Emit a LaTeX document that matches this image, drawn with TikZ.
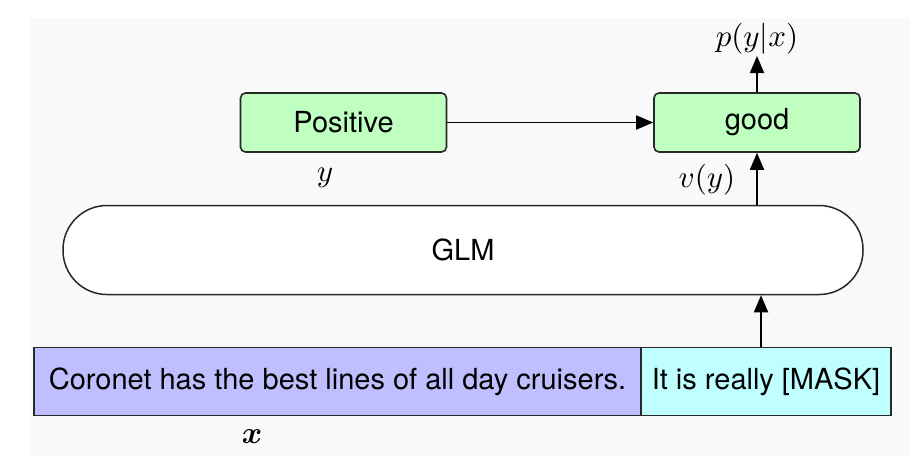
\documentclass[tikz,border=0pt]{standalone}
\usepackage{fontspec}
\usepackage{amsmath,bm}
\setsansfont{TeX Gyre Heros}
\usetikzlibrary{arrows.meta}
\definecolor{boxgreen}{RGB}{191,255,191}
\definecolor{boxpurple}{RGB}{191,191,255}
\definecolor{boxcyan}{RGB}{191,255,255}
\definecolor{bggray}{RGB}{249,249,249}
\definecolor{edgegray}{RGB}{40,40,40}
\tikzset{
  lbl/.style={font=\sffamily\fontsize{29}{34}\selectfont, text=black},
  mathlbl/.style={font=\fontsize{10}{12}\selectfont, inner sep=0pt, scale=3.1},
  greenbox/.style={lbl, draw=edgegray, line width=1.6pt, fill=boxgreen, rounded corners=5pt, minimum width=206pt, minimum height=59pt, inner sep=0pt},
  textbox/.style={lbl, draw=edgegray, line width=1.6pt, minimum height=68pt, inner sep=0pt},
  glmbox/.style={lbl, draw=edgegray, line width=1.5pt, fill=white, rounded corners=44pt, minimum width=800pt, minimum height=89pt, inner sep=0pt},
  arr/.style={line width=1.8pt, -{Triangle[length=17pt,width=14pt]}}
}
\begin{document}
\begin{tikzpicture}[x=1pt,y=-1pt]
\useasboundingbox (0,0) rectangle (916,466);
\fill[bggray] (30,18) rectangle (910,456);
\node[greenbox] (pos) at (343.5,122.5) {Positive};
\node[greenbox] (good) at (757,122.5) {good};
\node[glmbox] (glm) at (463,250) {GLM};
\node[textbox, fill=boxpurple, minimum width=607pt] (x) at (337.5,381.5) {Coronet has the best lines of all day cruisers.};
\node[textbox, fill=boxcyan, minimum width=250pt] (mask) at (766,381.5) {It is really [MASK]};
\node[mathlbl] (p) at (757,39) {$p(y|x)$};
\node[mathlbl] (y) at (325,178) {$y$};
\node[mathlbl] (v) at (707,180) {$v(y)$};
\node[mathlbl] (xl) at (252,437) {$\bm{x}$};
\coordinate (ptip) at (757,56);
\draw[arr] (pos.east) -- (good.west);
\draw[arr] (good.north) -- (ptip);
\draw[arr] (good.south |- glm.north) -- (good.south);
\draw[arr] (mask.north -| 761,0) -- (glm.south -| 761,0);
\end{tikzpicture}
\end{document}
